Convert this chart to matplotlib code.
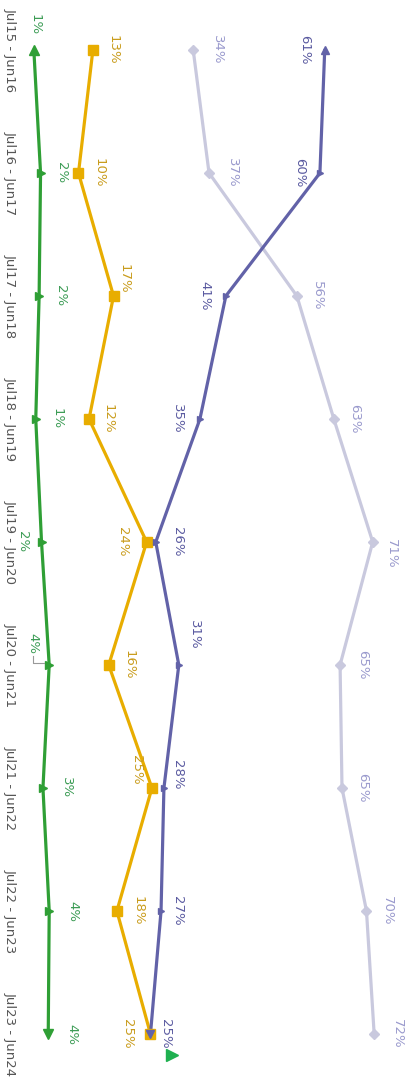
import numpy as np
import matplotlib
matplotlib.use("Agg")
import matplotlib.pyplot as plt

# periods (top to bottom in the picture)
periods = ["Jul15 - Jun16", "Jul16 - Jun17", "Jul17 - Jun18", "Jul18 - Jun19",
           "Jul19 - Jun20", "Jul20 - Jun21", "Jul21 - Jun22", "Jul22 - Jun23",
           "Jul23 - Jun24"]

# shares in percent
dark_vals = [61.4, 60.4, 40.8, 35.4, 26.2, 31.0, 27.9, 27.3, 25.1]
light_vals = [34.0, 37.3, 55.6, 63.3, 71.4, 64.6, 65.0, 70.1, 71.7]
orange_vals = [13.1, 10.1, 17.4, 12.3, 24.3, 16.4, 25.4, 18.1, 25.1]
green_vals = [0.8, 2.2, 1.9, 1.2, 2.4, 4.0, 2.7, 4.0, 3.8]

# label offsets in pixels (dx right, dy down)
green_off = [(1, -25), (21, 0), (21, 0), (21, 0), (-19, 0), (-16, -22), (24, 0), (24, 0), (24, 0)]
orange_off = [(20, 0), (21, 0), (11, -17), (19, 0), (-24, 0), (20, 0), (-15, -18), (21, 0), (-23, 0)]
dark_off = [(-20, 0), (-20, 0), (-21, 0), (-22, 0), (22, 0), (16, -30), (14, -13), (16, 0), (15, 0)]
light_off = [(24, 0), (23, 0), (21, 0), (21, 0), (19, 12), (23, 0), (21, 0), (21, 0), (23, 0)]

W, H = 413, 1079
fig = plt.figure(figsize=(W / 100, H / 100), dpi=100)
ax = fig.add_axes([0, 0, 1, 1])
ax.set_xlim(-30 / 4.8, (W - 30) / 4.8)
ax.set_ylim((H - 50) / 123, -50 / 123)
ax.axis("off")

y = np.arange(len(periods))
n = len(periods)


def draw(vals, color, lcolor, offs, markers, msize, z):
    ax.plot(vals, y, color=color, lw=2.3, zorder=z, solid_capstyle="round")
    for i in range(n):
        m = markers[i]
        ax.plot(vals[i], y[i], marker=m, color=color, ms=msize[i], mec=color, zorder=z + 0.5)
        dx, dy = offs[i]
        ax.annotate(f"{round(vals[i])}%", (vals[i], y[i]),
                    xytext=(dx * 0.72, -dy * 0.72), textcoords="offset points",
                    ha="center", va="center", rotation=-90, fontsize=9.5,
                    color=lcolor, zorder=6)


tri = ["^"] + [">"] * (n - 2) + ["v"]
tri_size = [7] + [5.5] * (n - 2) + [7]
draw(light_vals, "#c9c9de", "#9a9acd", light_off, ["D"] * n, [5] * n, 2)
draw(dark_vals, "#6262a8", "#5a5aa0", dark_off, tri, [6] + [5] * (n - 2) + [6], 3)
draw(orange_vals, "#e8ad00", "#c99c1c", orange_off, ["s"] * n, [7.5] * n, 2.5)
draw(green_vals, "#2f9f35", "#3c9c55", green_off, tri, tri_size, 4)

# leader line for the Jul20 green label
ax.plot([(33 - 30) / 4.8, (33 - 30) / 4.8, (44 - 30) / 4.8],
        [(656 - 50) / 123, (663 - 50) / 123, (663 - 50) / 123],
        color="#999999", lw=0.8, zorder=5)

# small green marker at the bottom
ax.plot((172 - 30) / 4.8, (1055 - 50) / 123, marker=">", color="#1fb050", ms=8, zorder=5)

# category labels
for i, p in enumerate(periods):
    ax.text((10 - 30) / 4.8, y[i], p, rotation=-90, ha="center", va="center",
            fontsize=9.5, color="#555555")

fig.savefig("out.png", dpi=100)
